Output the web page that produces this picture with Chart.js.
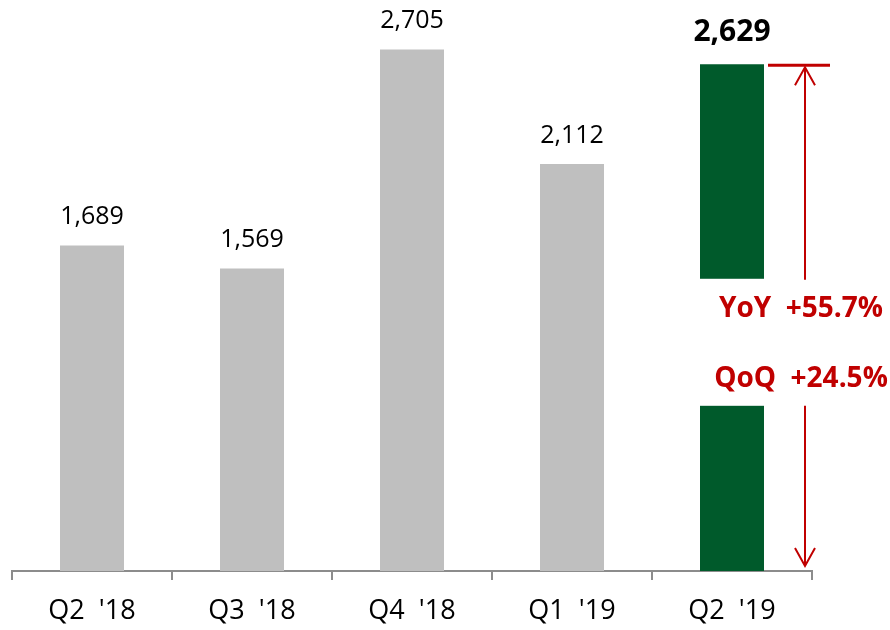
<!DOCTYPE html>
<html>
<head>
<meta charset="utf-8">
<script src="https://cdn.jsdelivr.net/npm/chart.js@4/dist/chart.umd.min.js"></script>
<style>
  html, body { margin: 0; padding: 0; background: #fff; }
  #wrap { width: 890px; height: 630px; }
</style>
</head>
<body>
<div id="wrap"><canvas id="quarterChart" width="890" height="630"></canvas></div>
<script>
var quarters = ["Q2  '18", "Q3  '18", "Q4  '18", "Q1  '19", "Q2  '19"];
var values = [1689, 1569, 2705, 2112, 2629];
var barColors = ['#bfbfbf', '#bfbfbf', '#bfbfbf', '#bfbfbf', '#005a2b'];
var growthLabels = ['YoY  +55.7%', 'QoQ  +24.5%'];
// break in the last bar, in data units
var gapRange = [857, 1516];

var red = '#c00000';
var fontFamily = "'Open Sans', 'DejaVu Sans', sans-serif";

var annotate = {
  id: 'annotate',
  afterDatasetsDraw: function (chart) {
    var ctx = chart.ctx;
    var y = chart.scales.y;
    var bars = chart.getDatasetMeta(0).data;
    var last = bars[bars.length - 1];

    ctx.save();
    // value labels
    ctx.textAlign = 'center';
    ctx.textBaseline = 'bottom';
    bars.forEach(function (bar, i) {
      var isLast = i === bars.length - 1;
      ctx.fillStyle = '#000';
      ctx.font = (isLast ? 'bold 30px ' : '25px ') + fontFamily;
      ctx.fillText(values[i].toLocaleString('en-US'), bar.x, bar.y - (isLast ? 17 : 16));
    });

    // white break across the last bar
    var gTop = y.getPixelForValue(gapRange[1]);
    var gBottom = y.getPixelForValue(gapRange[0]);
    ctx.fillStyle = '#fff';
    ctx.fillRect(last.x - last.width / 2 - 1, gTop, last.width + 2, gBottom - gTop);

    // arrow
    var right = last.x + last.width / 2;
    var ax = right + 41;
    var topY = last.y + 1;
    var baseY = y.getPixelForValue(0) - 5;
    ctx.strokeStyle = red;
    ctx.lineWidth = 3;
    ctx.beginPath();
    ctx.moveTo(right + 4, topY);
    ctx.lineTo(right + 66, topY);
    ctx.stroke();
    ctx.lineWidth = 2;
    ctx.beginPath();
    ctx.moveTo(ax, topY + 2);
    ctx.lineTo(ax, gTop + 1);
    ctx.moveTo(ax, gBottom);
    ctx.lineTo(ax, baseY);
    ctx.moveTo(ax - 10, topY + 20);
    ctx.lineTo(ax, topY + 2);
    ctx.lineTo(ax + 10, topY + 20);
    ctx.moveTo(ax - 10, baseY - 18);
    ctx.lineTo(ax, baseY);
    ctx.lineTo(ax + 10, baseY - 18);
    ctx.stroke();

    // growth texts
    var mid = (gTop + gBottom) / 2;
    ctx.fillStyle = red;
    ctx.font = 'bold 28px ' + fontFamily;
    ctx.textBaseline = 'middle';
    ctx.fillText(growthLabels[0], ax - 4, mid - 33);
    ctx.fillText(growthLabels[1], ax - 4, mid + 37);
    ctx.restore();
  }
};

var ctx = document.getElementById('quarterChart').getContext('2d');
var myChart = new Chart(ctx, {
  type: 'bar',
  data: {
    labels: quarters,
    datasets: [{
      data: values,
      backgroundColor: barColors,
      borderWidth: 0,
      categoryPercentage: 1,
      barPercentage: 0.4
    }]
  },
  options: {
    responsive: false,
    animation: false,
    layout: { padding: { left: 12, right: 78, top: 12, bottom: 0 } },
    plugins: {
      legend: { display: false },
      tooltip: { enabled: false }
    },
    scales: {
      x: {
        grid: {
          offset: true,
          drawOnChartArea: false,
          drawTicks: true,
          tickLength: 9,
          color: '#8c8c8c',
          lineWidth: 2
        },
        border: { display: true, color: '#8c8c8c', width: 2 },
        ticks: {
          color: '#000',
          padding: 15,
          font: { family: fontFamily, size: 27 }
        },
        afterFit: function (axis) { axis.height = 59; }
      },
      y: {
        display: false,
        min: 0,
        max: 2900
      }
    }
  },
  plugins: [annotate]
});
</script>
</body>
</html>
